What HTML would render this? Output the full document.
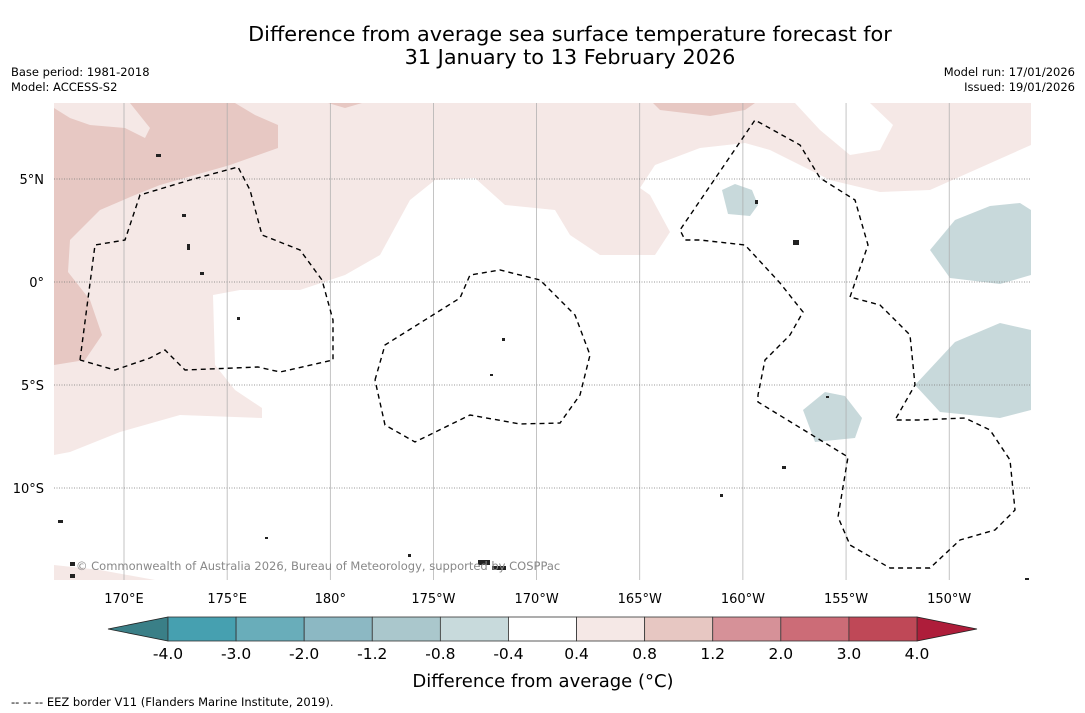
<!DOCTYPE html>
<html><head><meta charset="utf-8">
<style>
html,body{margin:0;padding:0;background:#fff;}
svg{display:block;font-family:"DejaVu Sans","Liberation Sans",sans-serif;}
</style></head>
<body>
<svg id="chart" width="1085" height="713" viewBox="0 0 1085 713">
<rect x="0" y="0" width="1085" height="713" fill="#fff"/>
<text x="570" y="41" font-size="20.8" text-anchor="middle">Difference from average sea surface temperature forecast for</text>
<text x="570" y="64" font-size="20.8" text-anchor="middle">31 January to 13 February 2026</text>
<text x="11" y="76" font-size="11.5">Base period: 1981-2018</text>
<text x="11" y="91" font-size="11.5">Model: ACCESS-S2</text>
<text x="1075" y="76" font-size="11.5" text-anchor="end">Model run: 17/01/2026</text>
<text x="1075" y="91" font-size="11.5" text-anchor="end">Issued: 19/01/2026</text>

<defs><clipPath id="mapclip"><rect x="54" y="103" width="977" height="477"/></clipPath></defs>
<g id="map" clip-path="url(#mapclip)">
  <rect x="54" y="103" width="977" height="477" fill="#fff"/>
  <polygon fill="#f5e8e6" points="54,103 1031,103 1031,145 930,190 880,192 830,180 770,150 745,143 700,148 655,165 640,188 650,195 670,232 655,255 600,255 570,235 555,210 505,205 475,178 435,180 410,200 380,255 345,275 300,290 240,290 213,295 215,365 235,390 262,408 262,418 180,415 120,432 70,452 54,455"/>
  <polygon fill="#fff" points="795,103 870,103 893,125 880,150 850,155 820,130"/>
  <polygon fill="#f5e8e6" points="54,565 100,570 155,580 54,580"/>
  <polygon fill="#e7c8c3" points="54,108 70,118 90,125 125,128 145,138 150,128 130,103 235,103 255,115 278,125 278,148 230,165 160,185 135,195 100,210 70,240 68,272 90,300 102,335 85,360 54,365"/>
  <polygon fill="#e7c8c3" points="653,103 755,103 745,110 710,116 660,110"/>
  <polygon fill="#e7c8c3" points="328,103 362,103 345,108"/>
  <polygon fill="#c8d9db" points="722,190 735,184 752,190 758,205 750,216 728,214"/>
  <polygon fill="#c8d9db" points="930,250 955,220 990,206 1020,203 1031,210 1031,275 1000,284 950,278"/>
  <polygon fill="#c8d9db" points="915,385 955,342 1000,323 1031,330 1031,410 1000,418 940,412"/>
  <polygon fill="#c8d9db" points="803,410 825,392 845,396 862,418 855,438 815,442"/>
  <g id="grid"></g>
  <g fill="none" stroke="#000" stroke-width="1.4" stroke-dasharray="5,4">
    <polyline points="80,360 95,245 125,240 140,195 190,180 238,167 250,190 262,235 300,250 322,280 333,320 333,360 280,372 258,367 185,370 165,350 150,358 115,370 80,360"/>
    <polyline points="375,380 385,345 460,298 470,275 500,270 540,280 575,315 590,355 580,395 560,423 520,424 470,415 415,442 385,425 375,380"/>
    <polyline points="850,297 868,245 855,200 820,178 800,145 755,120 680,230 685,240 700,240 745,245 780,283 803,312 790,335 765,360 758,395 758,402 848,457 838,517 850,545 890,568 930,568 960,540 995,530 1015,510 1010,460 990,430 965,418 918,420 895,420 915,385 910,335 880,305 850,297"/>
  </g>
  <g fill="#222">
    <rect x="478" y="560" width="12" height="5"/><rect x="492" y="566" width="14" height="4"/>
    <rect x="70" y="562" width="5" height="4"/><rect x="70" y="574" width="5" height="4"/>
    <rect x="58" y="520" width="5" height="3"/><rect x="755" y="200" width="3" height="4"/>
    <rect x="793" y="240" width="6" height="5"/><rect x="782" y="466" width="4" height="3"/>
    <rect x="502" y="338" width="3" height="3"/><rect x="490" y="374" width="3" height="2"/>
    <rect x="156" y="154" width="5" height="3"/><rect x="182" y="214" width="4" height="3"/>
    <rect x="187" y="244" width="3" height="6"/><rect x="200" y="272" width="4" height="3"/>
    <rect x="237" y="317" width="3" height="3"/><rect x="720" y="494" width="3" height="3"/>
    <rect x="408" y="554" width="3" height="3"/><rect x="1025" y="578" width="4" height="2"/>
    <rect x="265" y="537" width="3" height="2"/><rect x="826" y="396" width="3" height="2"/>
  </g>
  <text x="76" y="570" font-size="11.5" fill="#888">© Commonwealth of Australia 2026, Bureau of Meteorology, supported by COSPPac</text>
</g>
<g id="axislabels"></g>
<g id="colorbar"></g>
<text x="543" y="687" font-size="18" text-anchor="middle">Difference from average (°C)</text>
<text x="11" y="706" font-size="11.5">--  --  -- EEZ border V11 (Flanders Marine Institute, 2019).</text>
</svg>
<script>
const lonLabels = ["170°E","175°E","180°","175°W","170°W","165°W","160°W","155°W","150°W"];
const lonValues = [170,175,180,185,190,195,200,205,210];
const latLabels = ["5°N","0°","5°S","10°S"];
const latValues = [5,0,-5,-10];
const levels = [-4.0,-3.0,-2.0,-1.2,-0.8,-0.4,0.4,0.8,1.2,2.0,3.0,4.0];
const levelLabels = ["-4.0","-3.0","-2.0","-1.2","-0.8","-0.4","0.4","0.8","1.2","2.0","3.0","4.0"];
const binColors = ["#46a0b0","#69adba","#8cb8c3","#aac7cc","#c8dadc","#ffffff","#f5e8e6","#e7c7c2","#d69198","#cc6c77","#bf4857"];
const lowColor = "#3a7f87", highColor = "#ae1d3a";

const NS="http://www.w3.org/2000/svg";
function mk(tag,attrs,parent){const e=document.createElementNS(NS,tag);for(const k in attrs)e.setAttribute(k,attrs[k]);parent.appendChild(e);return e;}
const xLon = lon => 124 + (lon-170)*20.63;
const yLat = lat => 282 - lat*20.6;
const grid=document.getElementById('grid');
const axl=document.getElementById('axislabels');
lonValues.forEach((v,i)=>{
  const l=mk('line',{x1:xLon(v),x2:xLon(v),y1:103,y2:580,stroke:'#aaa','stroke-width':0.7},grid);
  
  
  const t=mk('text',{x:xLon(v),y:603,'font-size':13,'text-anchor':'middle'},axl);
  t.textContent=lonLabels[i];
  
  
});
latValues.forEach((v,i)=>{
  const l=mk('line',{x1:54,x2:1031,y1:yLat(v),y2:yLat(v),stroke:'#777','stroke-width':0.7,'stroke-dasharray':'1,1.5'},grid);
  
  
  const t=mk('text',{x:44,y:yLat(v)+5,'font-size':13,'text-anchor':'end'},axl);
  t.textContent=latLabels[i];
  
  
});
const cb=document.getElementById('colorbar');
const cbX0=168, cbX1=917, cbY=617, cbH=24;
const xL = i => cbX0 + i*(cbX1-cbX0)/(levels.length-1);
const lt=mk('polygon',{points:`${cbX0},${cbY} ${cbX0},${cbY+cbH} 108,${cbY+cbH/2}`,fill:lowColor,stroke:'#222','stroke-width':0.8},cb);


const rt=mk('polygon',{points:`${cbX1},${cbY} ${cbX1},${cbY+cbH} 977,${cbY+cbH/2}`,fill:highColor,stroke:'#222','stroke-width':0.8},cb);


for(let i=0;i<levels.length-1;i++){
  const r=mk('rect',{x:xL(i),y:cbY,width:xL(i+1)-xL(i),height:cbH,fill:binColors[i],stroke:'#333','stroke-width':0.8},cb);
  
  
}
levels.forEach((v,i)=>{
  const t=mk('text',{x:xL(i),y:cbY+cbH+18,'font-size':15.5,'text-anchor':'middle'},cb);
  t.textContent=levelLabels[i];
  
  
});
</script>
</body></html>
